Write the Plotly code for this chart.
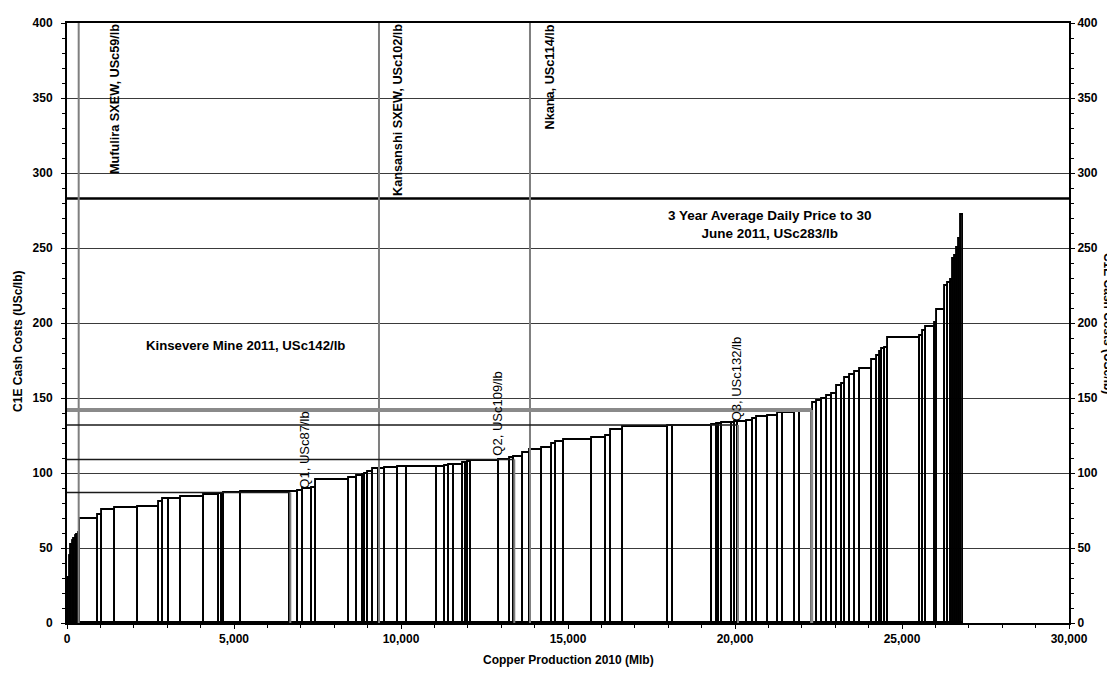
import numpy as np
import plotly.graph_objects as go

# ---- data: mine production (Mlb, bar widths) and C1E cash cost (USc/lb, bar heights)
production = [30, 45, 45, 45, 45, 45, 45, 50, 48,
              521, 129, 398, 680, 637, 102, 198, 359, 671, 467,
              66, 66, 518, 1476, 239, 150, 251, 129, 997, 231,
              171, 68, 81, 150, 188, 180, 380, 288, 880, 248,
              120, 150, 278, 66, 75, 81, 847, 330, 128, 252,
              218, 350, 299, 138, 240, 820, 437, 132, 354, 1371,
              150, 1173, 126, 69, 81, 299, 99, 90, 260, 180,
              138, 329, 300, 149, 351, 149, 350, 48, 102, 149,
              150, 150, 149, 150, 99, 150, 150, 149, 350, 150,
              99, 60, 90, 99, 949, 99, 81, 269, 60, 240,
              90, 74, 84, 51, 51, 54, 60, 66]
cost = [18, 30, 45, 52, 55, 56, 58, 59, 60,
        69.4, 72.3, 75.1, 76.7, 77.5, 80.6, 82.6, 82.8, 84.3, 85.4,
        85.7, 86.0, 86.5, 87.2, 87.4, 88, 89.2, 89.8, 95.3, 96.9,
        98, 98.8, 99.2, 100.4, 102.4, 102.7, 103.1, 103.8, 104, 104.2,
        104.6, 105.2, 105.5, 106.5, 107, 107.4, 107.9, 108.9, 110.2, 111,
        113.5, 115.1, 117, 119.5, 120.6, 121.7, 123.2, 125, 128.5, 131,
        131.2, 131.3, 131.8, 132.5, 133, 133.3, 133.6, 133.8, 134.2, 134.8,
        136, 137.5, 138.2, 139.9, 140.3, 140.4, 140.6, 142, 147, 148,
        149.6, 151.3, 152.4, 158, 159.5, 163.4, 165.6, 167.2, 169.2, 175.5,
        177.7, 180.5, 182.5, 183.5, 190, 191.5, 195, 197.6, 200, 209,
        225, 227, 229, 243, 245, 250, 256, 272]

# reference mines (vertical grey markers)
ref_labels = ["Mufulira SXEW, USc59/lb", "Kansanshi SXEW, USc102/lb", "Nkana, USc114/lb"]
ref_x = [350, 9341, 13862]
ref_label_x = [1440, 9910, 14460]

# quartiles
quart_labels = ["Q1, USc87/lb", "Q2, USc109/lb", "Q3, USc132/lb"]
quart_x = [6686, 13392, 20090]
quart_cost = [87, 109, 132]
quart_label_x = [7100, 12880, 20040]

# Kinsevere
kins_label = "Kinsevere Mine 2011, USc142/lb"
kins_x = 22296
kins_cost = 142

# price line
price_label = "3 Year Average Daily Price to 30<br>June 2011, USc283/lb"
price = 283

x_ticks = [0, 5000, 10000, 15000, 20000, 25000, 30000]
y_ticks = [0, 50, 100, 150, 200, 250, 300, 350, 400]

FONT = "Liberation Sans, Arial, sans-serif"

prod = np.array(production, dtype=float)
right = np.cumsum(prod)
centers = right - prod / 2

fig = go.Figure()
fig.add_trace(go.Bar(
    x=centers, y=cost, width=prod, base=0,
    marker=dict(color="rgba(0,0,0,0)", line=dict(color="black", width=1.9)),
    hoverinfo="skip", showlegend=False,
))
# invisible trace for right axis
fig.add_trace(go.Scatter(x=[0], y=[0], yaxis="y2", mode="markers",
                         marker=dict(opacity=0), hoverinfo="skip", showlegend=False))

shapes = []
shapes.append(dict(type="line", xref="x", yref="y", x0=0, x1=30000, y0=price, y1=price,
                   line=dict(color="black", width=2.5), layer="above"))
for xv in ref_x:
    shapes.append(dict(type="line", xref="x", yref="y", x0=xv, x1=xv, y0=0, y1=400,
                       line=dict(color="#7f7f7f", width=2), layer="above"))
for xv, cv in zip(quart_x, quart_cost):
    shapes.append(dict(type="line", xref="x", yref="y", x0=0, x1=xv, y0=cv, y1=cv,
                       line=dict(color="#1a1a1a", width=1.6), layer="above"))
    shapes.append(dict(type="line", xref="x", yref="y", x0=xv, x1=xv, y0=0, y1=cv,
                       line=dict(color="#7f7f7f", width=2), layer="above"))
shapes.append(dict(type="line", xref="x", yref="y", x0=0, x1=kins_x, y0=kins_cost, y1=kins_cost,
                   line=dict(color="#8a8a8a", width=4), layer="above"))
shapes.append(dict(type="line", xref="x", yref="y", x0=kins_x, x1=kins_x, y0=0, y1=kins_cost,
                   line=dict(color="#8a8a8a", width=3), layer="above"))

annotations = []
for txt, xv in zip(ref_labels, ref_label_x):
    annotations.append(dict(text=txt, x=xv, y=400, xref="x", yref="y", textangle=-90,
                            yanchor="top", xanchor="center", showarrow=False, yshift=1,
                            font=dict(family=FONT, size=12.7, color="black", weight="bold")))
for txt, xv, cv in zip(quart_labels, quart_label_x, quart_cost):
    annotations.append(dict(text=txt, x=xv, y=cv + 1, xref="x", yref="y", textangle=-90,
                            yanchor="bottom", xanchor="center", showarrow=False,
                            font=dict(family=FONT, size=13, color="black")))
annotations.append(dict(text=kins_label, x=5330, y=185, xref="x", yref="y", showarrow=False,
                        font=dict(family=FONT, size=13.2, color="black", weight="bold")))
annotations.append(dict(text=price_label, x=21050, y=265.5, xref="x", yref="y", showarrow=False,
                        align="center",
                        font=dict(family=FONT, size=13.5, color="black", weight="bold")))
annotations.append(dict(text="C1E Cash Costs (USc/lb)", x=-0.049, y=0.47, xref="paper", yref="paper",
                        textangle=-90, showarrow=False, xanchor="center", yanchor="middle",
                        font=dict(family=FONT, size=12, color="black", weight="bold")))
annotations.append(dict(text="C1E Cash Costs (USc/lb)", x=1.039, y=0.5, xref="paper", yref="paper",
                        textangle=90, showarrow=False, xanchor="center", yanchor="middle",
                        font=dict(family=FONT, size=12, color="black", weight="bold")))
annotations.append(dict(text="Copper Production 2010 (Mlb)", x=0.5, y=-0.061, xref="paper", yref="paper",
                        showarrow=False, xanchor="center", yanchor="middle",
                        font=dict(family=FONT, size=12, color="black", weight="bold")))

tickfont = dict(family=FONT, size=12, color="black", weight="bold")
fig.update_layout(
    width=1107, height=665,
    margin=dict(l=59, r=46, t=8, b=50),
    paper_bgcolor="white", plot_bgcolor="white",
    bargap=0, shapes=shapes, annotations=annotations,
    xaxis=dict(range=[0, 30000], tickvals=x_ticks, tickformat=",", showgrid=False,
               zeroline=False, showline=True, linecolor="black", linewidth=2, mirror=True,
               ticks="outside", ticklen=4, tickcolor="black", tickfont=tickfont,
               minor=dict(dtick=1000, ticks="outside", ticklen=3, tickcolor="black", showgrid=False)),
    yaxis=dict(range=[0, 400], tickvals=y_ticks, showgrid=True, gridcolor="#3a3a3a", gridwidth=1,
               zeroline=False, showline=True, linecolor="black", linewidth=2,
               ticks="outside", ticklen=4, tickcolor="black", tickfont=tickfont,
               ticklabelstandoff=6,
               minor=dict(dtick=10, ticks="outside", ticklen=3, tickcolor="black", showgrid=False)),
    yaxis2=dict(range=[0, 400], tickvals=y_ticks, overlaying="y", side="right", showgrid=False,
                zeroline=False, showline=True, linecolor="black", linewidth=2,
                ticks="outside", ticklen=4, tickcolor="black", tickfont=tickfont,
                minor=dict(dtick=10, ticks="outside", ticklen=3, tickcolor="black", showgrid=False)),
)

fig.write_html("out.html")
